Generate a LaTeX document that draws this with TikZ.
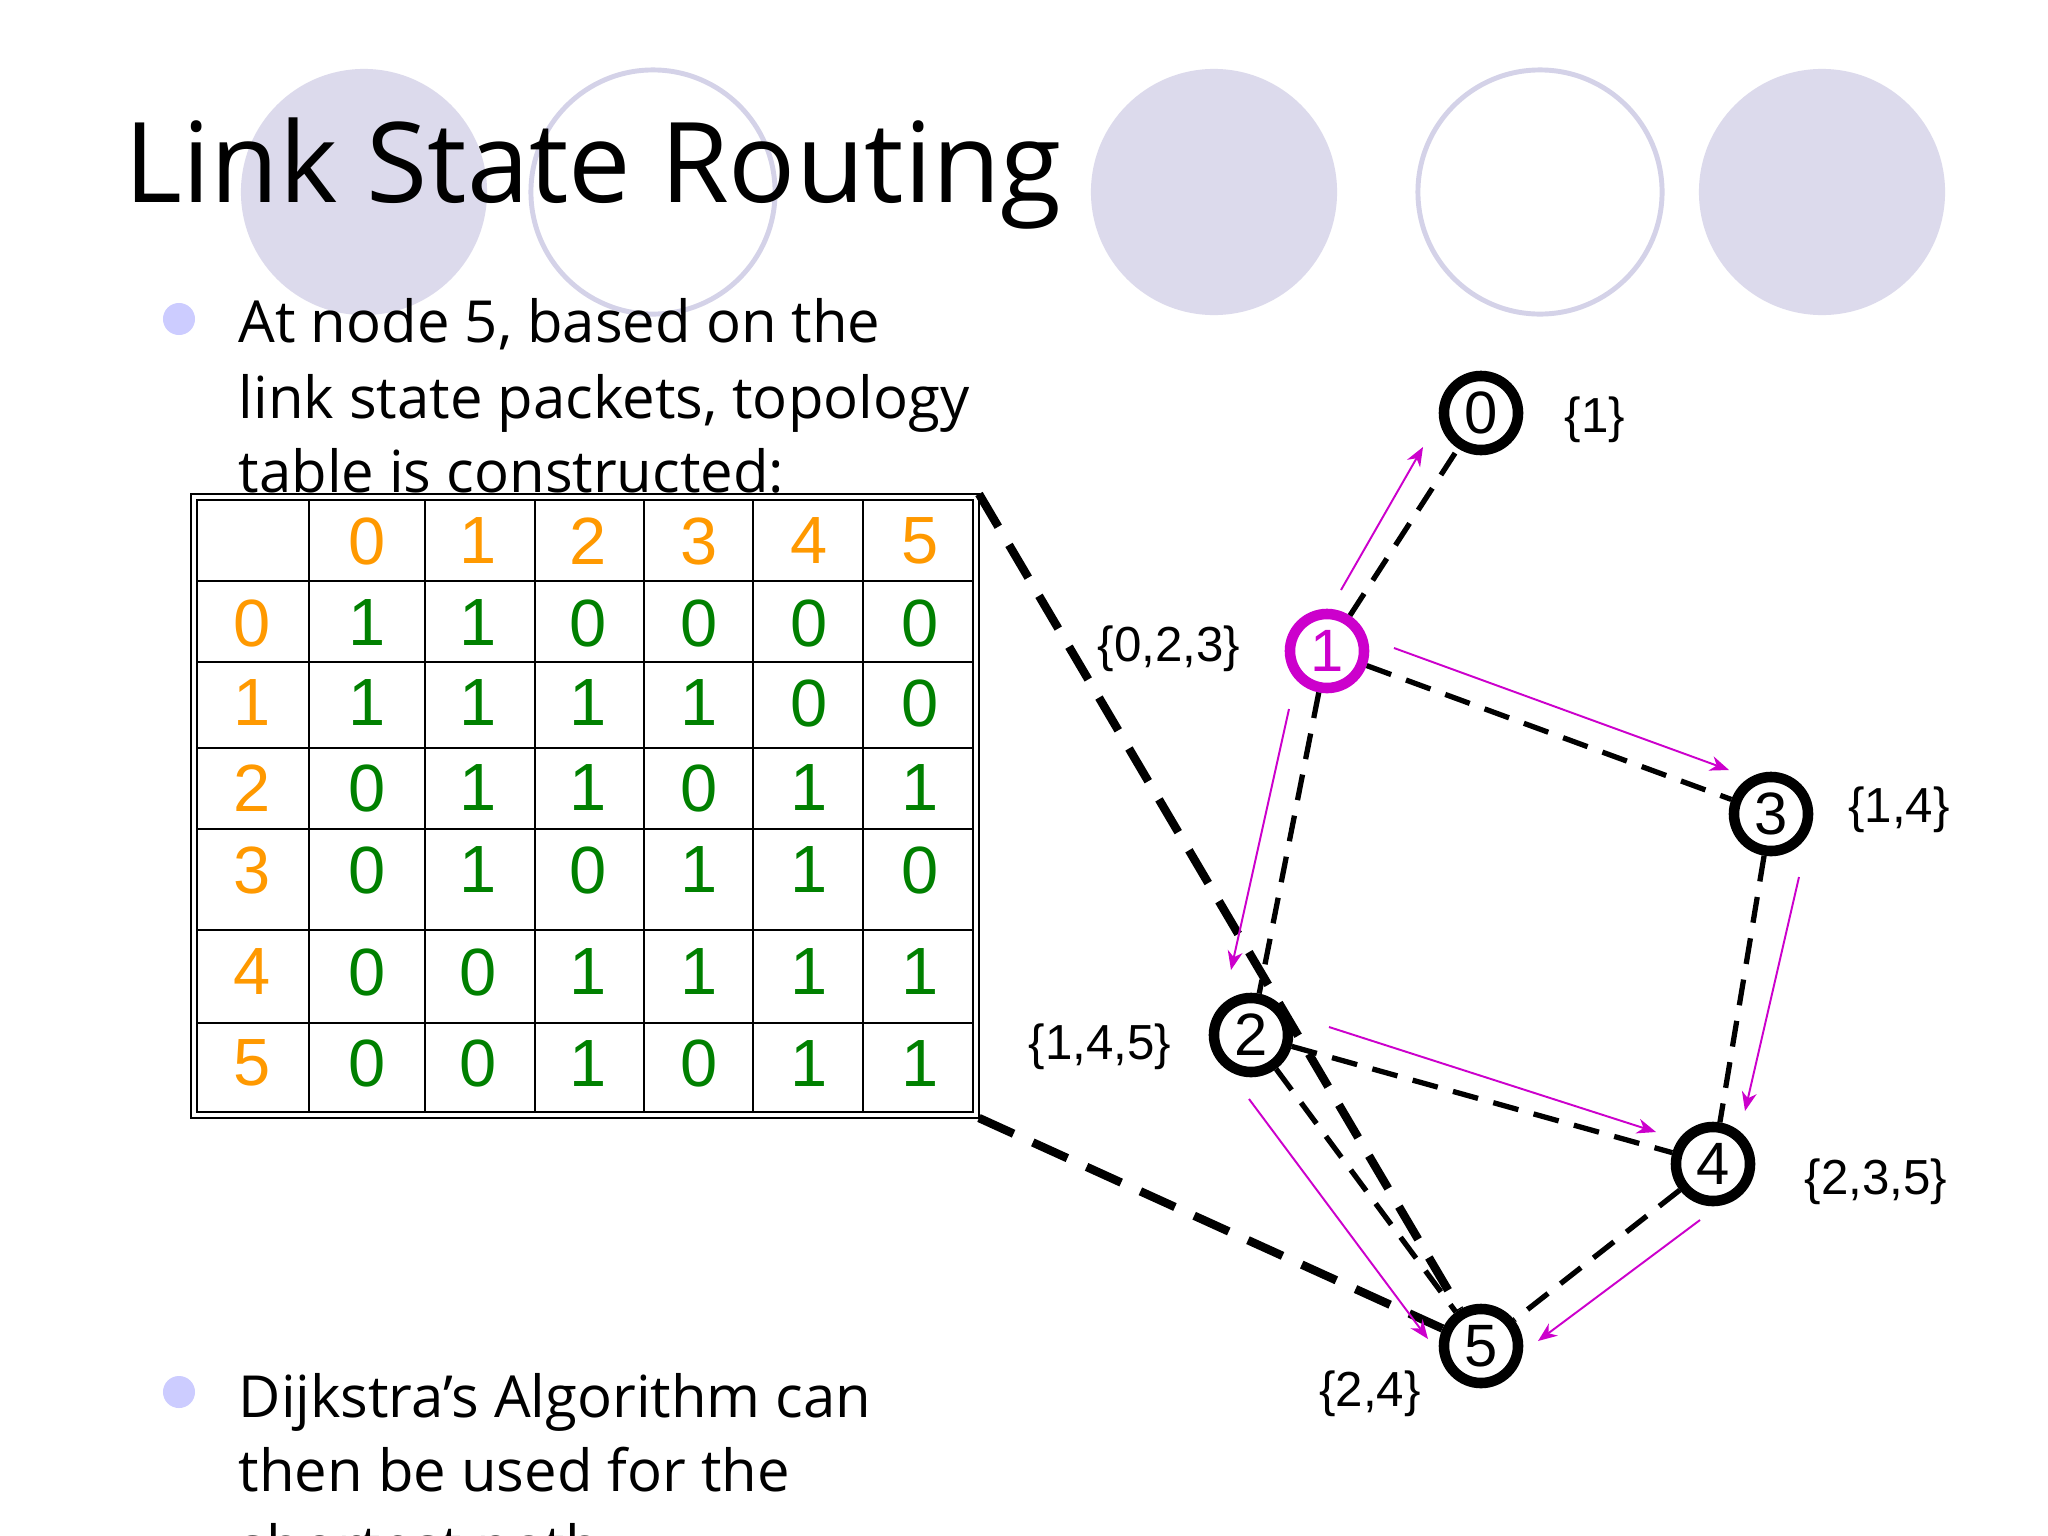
\documentclass[tikz,border=0pt]{standalone}
\usepackage{fontspec}
\setmainfont{Liberation Sans}
\newfontfamily\handfont{Open Sans}
\usetikzlibrary{arrows.meta}

\definecolor{lavfill}{RGB}{220,218,236}
\definecolor{lavline}{RGB}{212,210,232}
\definecolor{bulletc}{RGB}{204,204,255}
\definecolor{hdrorange}{RGB}{255,153,0}
\definecolor{cellgreen}{RGB}{0,128,0}
\definecolor{msgmag}{RGB}{204,0,204}

\begin{document}
\begin{tikzpicture}[x=0.01cm, y=-0.01cm,
    >={Stealth[length=1.9mm,width=1.5mm,inset=0.6mm]},
    bulletdot/.style={circle, fill=bulletc, minimum size=0.32cm, inner sep=0pt},
    bodytext/.style={anchor=base west, inner sep=0pt, font=\handfont\fontsize{16.5}{20}\selectfont},
    hdrnum/.style={text=hdrorange, inner sep=0pt, font=\fontsize{19}{19}\selectfont},
    cellnum/.style={text=cellgreen, inner sep=0pt, font=\fontsize{19}{19}\selectfont},
    tabline/.style={line width=0.7pt},
    router/.style={circle, draw, line width=3pt, fill=white, minimum size=0.74cm,
                   inner sep=0pt, font=\fontsize{17}{17}\selectfont},
    nbrset/.style={inner sep=0pt, font=\fontsize{14}{14}\selectfont},
    link/.style={line width=1.5pt, dash pattern=on 7.4pt off 4.5pt},
    feed/.style={line width=2.4pt, dash pattern=on 10.8pt off 6pt},
    msg/.style={->, draw=msgmag, line width=0.55pt}]

    \useasboundingbox (0,0) rectangle (2048,1536);
    \clip (0,0) rectangle (2048,1536);
    \fill[white] (0,0) rectangle (2048,1536);

    % Zierkreise oben
    \fill[lavfill] (364,192) circle (1.23cm);
    \draw[lavline, line width=1.4pt] (653,192) circle (1.22cm);
    \fill[lavfill] (1214,192) circle (1.23cm);
    \draw[lavline, line width=1.4pt] (1540,192) circle (1.22cm);
    \fill[lavfill] (1822,192) circle (1.23cm);

    % Titel
    \node[anchor=base west, inner sep=0pt, font=\handfont\fontsize{31.7}{36}\selectfont]
        (title) at (124,202) {Link State Routing};

    % Aufzaehlung
    \node[bulletdot] (b1) at (179,319) {};
    \node[bodytext] (t1a) at (238,342) {At node 5, based on the};
    \node[bodytext] (t1b) at (238,418) {link state packets, topology};
    \node[bodytext] (t1c) at (238,492) {table is constructed:};

    \node[bulletdot] (b2) at (179,1392) {};
    \node[bodytext] (t2a) at (238,1417) {Dijkstra’s Algorithm can};
    \node[bodytext] (t2b) at (238,1491) {then be used for the};
    \node[bodytext] (t2c) at (238,1567) {shortest path.};

    % Tabelle (doppelter Rand)
    \draw[line width=0.5pt] (191,494) rectangle (979,1118);
    \draw[line width=0.5pt] (197,500) rectangle (973,1112);
    \foreach \x in {309,425,535,644,753,863}
        \draw[tabline] (\x,500) -- (\x,1112);
    \foreach \y in {581,662,748,829,930,1023}
        \draw[tabline] (197,\y) -- (973,\y);

    % Kopfzeile
    \foreach \c in {0,...,5}
        \node[hdrnum] (h\c) at ({367+110.6*\c},541) {\c};

    % Zeilen
    \foreach \r/\y/\vals in {0/623/{1,1,0,0,0,0}, 1/703/{1,1,1,1,0,0},
                             2/788/{0,1,1,0,1,1}, 3/870/{0,1,0,1,1,0},
                             4/972/{0,0,1,1,1,1}, 5/1063/{0,0,1,0,1,1}} {
        \node[hdrnum] (r\r) at (252,\y) {\r};
        \foreach \v [count=\c from 0] in \vals
            \node[cellnum] (c\r\c) at ({367+110.6*\c},\y) {\v};
    }

    % Knoten
    \node[router] (n0) at (1481,413) {0};
    \node[router, draw=msgmag, text=msgmag] (n1) at (1327,651) {1};
    \node[router] (n2) at (1251,1035) {2};
    \node[router] (n3) at (1771,814) {3};
    \node[router] (n4) at (1713,1164) {4};
    \node[router] (n5) at (1481,1346) {5};

    % Nachbarmengen
    \node[nbrset] (s0) at (1595,420) {\{1\}};
    \node[nbrset] (s1) at (1169,649) {\{0,2,3\}};
    \node[nbrset] (s3) at (1899,810) {\{1,4\}};
    \node[nbrset] (s2) at (1100,1047) {\{1,4,5\}};
    \node[nbrset] (s4) at (1876,1182) {\{2,3,5\}};
    \node[nbrset] (s5) at (1370,1394) {\{2,4\}};

    % Verbindungen
    \draw[link] (n1) -- (n0);
    \draw[link] (n1) -- (n3);
    \draw[link] (n1) -- (n2);
    \draw[link] (n3) -- (n4);
    \draw[link] (n2) -- (n4);
    \draw[link] (n2) -- (n5);
    \draw[link] (n4) -- (n5);

    % Tabelle -> Knoten 5
    \coordinate (tabNE) at (979,494);
    \coordinate (tabSE) at (979,1118);
    \draw[feed] (tabNE) -- (n5);
    \draw[feed] (tabSE) -- (n5);

    % Pakete (magenta)
    \coordinate (m10a) at (1341,590);  \coordinate (m10b) at (1423,447);
    \coordinate (m13a) at (1394,648);  \coordinate (m13b) at (1729,770);
    \coordinate (m12a) at (1289,709);  \coordinate (m12b) at (1231,970);
    \coordinate (m34a) at (1799,877);  \coordinate (m34b) at (1745,1111);
    \coordinate (m24a) at (1329,1027); \coordinate (m24b) at (1656,1132);
    \coordinate (m25a) at (1249,1099); \coordinate (m25b) at (1428,1339);
    \coordinate (m45a) at (1700,1220); \coordinate (m45b) at (1538,1341);
    \foreach \p in {10,13,12,34,24,25,45}
        \draw[msg] (m\p a) -- (m\p b);
\end{tikzpicture}
\end{document}
